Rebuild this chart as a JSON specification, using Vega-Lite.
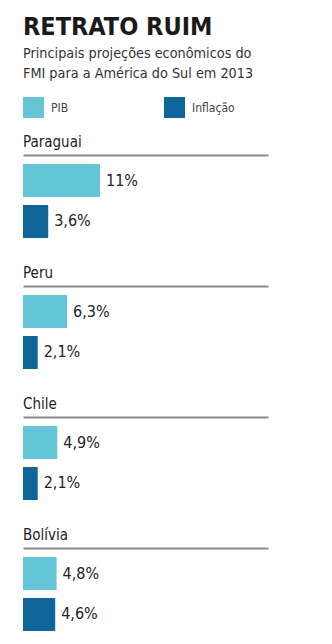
{
  "$schema": "https://vega.github.io/schema/vega-lite/v6.json",
  "background": "white",
  "padding": {"left": 23, "top": 14, "right": 5, "bottom": 5},
  "title": {
    "text": "RETRATO RUIM",
    "subtitle": ["Principais projeções econômicos do", "FMI para a América do Sul em 2013"],
    "anchor": "start",
    "font": "DejaVu Sans Condensed",
    "fontSize": 25,
    "fontWeight": "bold",
    "color": "#1a1a1a",
    "subtitleFont": "DejaVu Sans Condensed",
    "subtitleFontSize": 14.3,
    "subtitleColor": "#333333",
    "subtitleLineHeight": 20,
    "subtitlePadding": 7,
    "offset": 16
  },
  "data": {
    "values": [
      {"country": "Paraguai", "measure": "PIB", "value": 11, "label": "11%"},
      {"country": "Paraguai", "measure": "Inflação", "value": 3.6, "label": "3,6%"},
      {"country": "Peru", "measure": "PIB", "value": 6.3, "label": "6,3%"},
      {"country": "Peru", "measure": "Inflação", "value": 2.1, "label": "2,1%"},
      {"country": "Chile", "measure": "PIB", "value": 4.9, "label": "4,9%"},
      {"country": "Chile", "measure": "Inflação", "value": 2.1, "label": "2,1%"},
      {"country": "Bolívia", "measure": "PIB", "value": 4.8, "label": "4,8%"},
      {"country": "Bolívia", "measure": "Inflação", "value": 4.6, "label": "4,6%"}
    ]
  },
  "facet": {
    "field": "country",
    "type": "nominal",
    "sort": ["Paraguai", "Peru", "Chile", "Bolívia"],
    "header": {
      "title": null,
      "labelAnchor": "start",
      "labelFont": "DejaVu Sans Condensed",
      "labelFontSize": 15,
      "labelColor": "#222222",
      "labelPadding": 5
    }
  },
  "columns": 1,
  "spacing": 19,
  "resolve": {"axis": {"x": "independent"}},
  "spec": {
    "width": 245,
    "height": 92,
    "encoding": {
      "y": {
        "field": "measure",
        "type": "nominal",
        "sort": ["PIB", "Inflação"],
        "axis": null,
        "scale": {"paddingInner": 0.195, "paddingOuter": 0.22}
      }
    },
    "layer": [
      {
        "mark": {"type": "bar"},
        "encoding": {
          "x": {
            "field": "value",
            "type": "quantitative",
            "scale": {"domain": [0, 34]},
            "axis": {
              "orient": "top",
              "domain": true,
              "domainColor": "#8a8a8a",
              "domainWidth": 2,
              "ticks": false,
              "labels": false,
              "grid": false,
              "title": null
            }
          },
          "color": {
            "field": "measure",
            "type": "nominal",
            "scale": {"domain": ["PIB", "Inflação"], "range": ["#63c5d6", "#10669a"]},
            "legend": {
              "title": null,
              "orient": "top",
              "direction": "horizontal",
              "columns": 2,
              "columnPadding": 95,
              "symbolType": "square",
              "symbolSize": 441,
              "symbolStrokeWidth": 0,
              "symbolOpacity": 1,
              "labelFont": "DejaVu Sans Condensed",
              "labelFontSize": 12,
              "labelColor": "#444444",
              "labelOffset": 7,
              "offset": 17
            }
          }
        }
      },
      {
        "mark": {"type": "text", "align": "left", "baseline": "middle", "dx": 6, "font": "DejaVu Sans Condensed", "fontSize": 16, "color": "#222222"},
        "encoding": {
          "x": {"field": "value", "type": "quantitative"},
          "text": {"field": "label"}
        }
      }
    ]
  },
  "config": {"view": {"stroke": null}}
}
